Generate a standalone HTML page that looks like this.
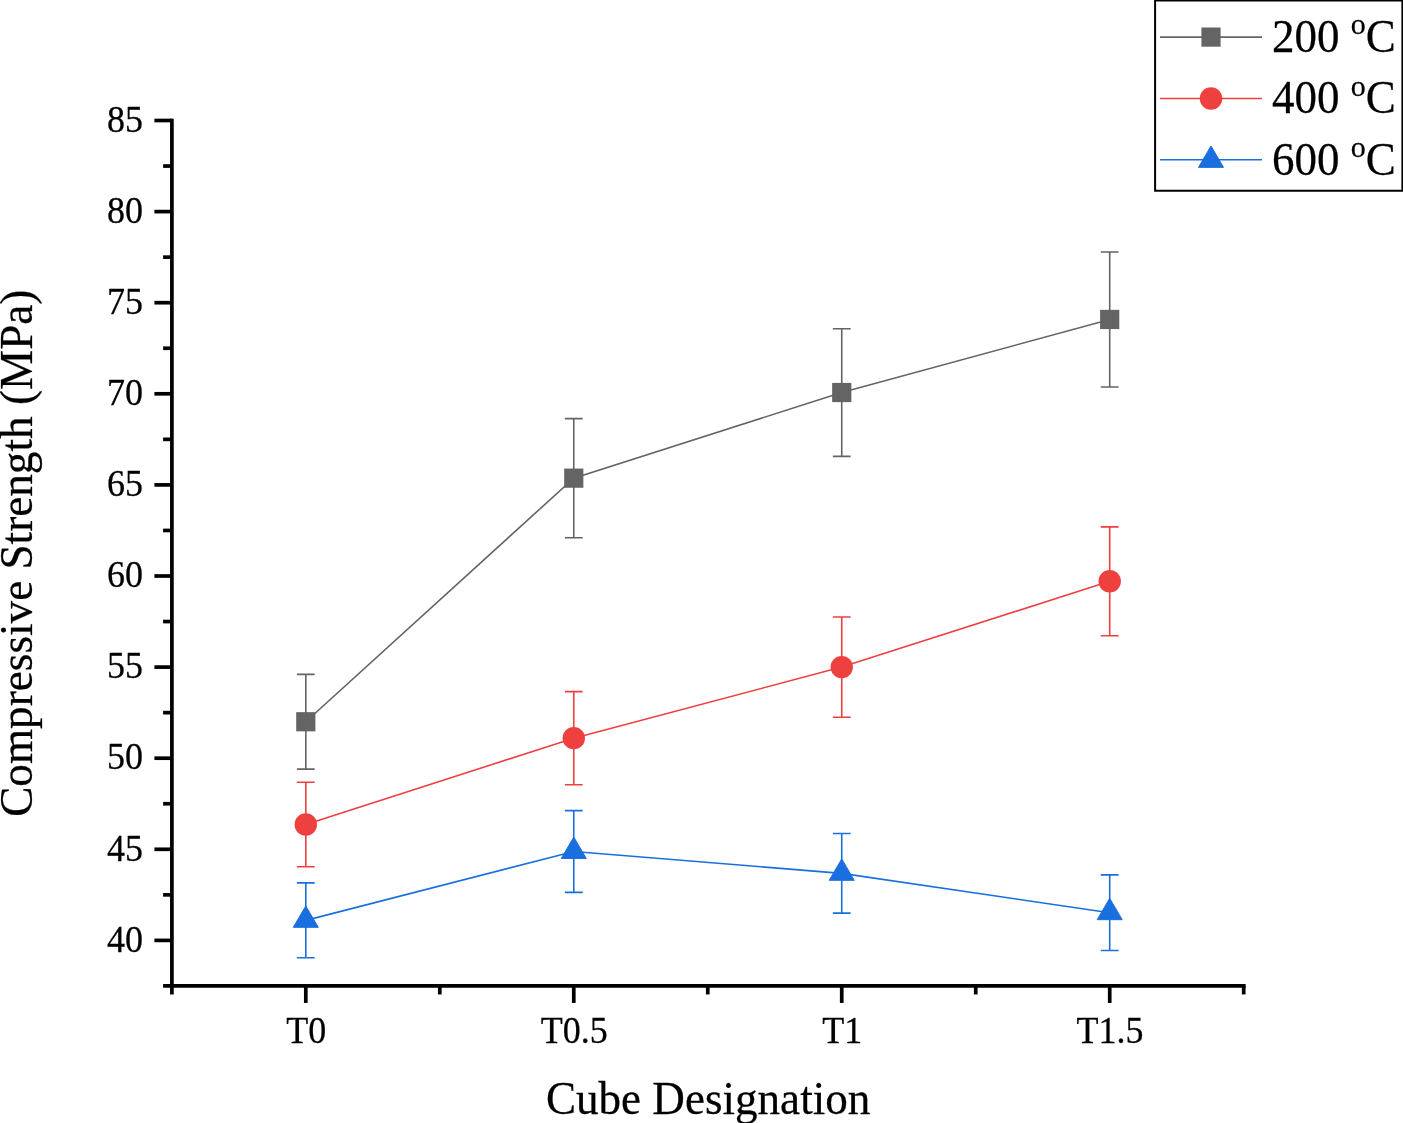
<!DOCTYPE html>
<html><head><meta charset="utf-8"><title>Chart</title>
<style>
html,body{margin:0;padding:0;background:#fff;}
body{width:1403px;height:1123px;overflow:hidden;}
svg{display:block;will-change:transform;}
text{font-family:"Liberation Serif",serif;fill:#000;stroke:#000;stroke-width:0.25px;}
</style></head><body>
<svg width="1403" height="1123" viewBox="0 0 1403 1123">
<rect width="1403" height="1123" fill="#fff"/>
<g stroke="#000" stroke-width="3.7" fill="none" stroke-linecap="butt">
<path d="M171.9 118.75 V994.45"/>
<path d="M163.1 985.95 H1245.65"/>
<path d="M154.4 120.5 H171.9"/>
<path d="M163.1 166.05 H171.9"/>
<path d="M154.4 211.6 H171.9"/>
<path d="M163.1 257.15 H171.9"/>
<path d="M154.4 302.7 H171.9"/>
<path d="M163.1 348.25 H171.9"/>
<path d="M154.4 393.8 H171.9"/>
<path d="M163.1 439.35 H171.9"/>
<path d="M154.4 484.9 H171.9"/>
<path d="M163.1 530.45 H171.9"/>
<path d="M154.4 576 H171.9"/>
<path d="M163.1 621.55 H171.9"/>
<path d="M154.4 667.1 H171.9"/>
<path d="M163.1 712.65 H171.9"/>
<path d="M154.4 758.2 H171.9"/>
<path d="M163.1 803.75 H171.9"/>
<path d="M154.4 849.3 H171.9"/>
<path d="M163.1 894.85 H171.9"/>
<path d="M154.4 940.4 H171.9"/>
<path d="M305.8 985.95 V1002.95"/>
<path d="M573.77 985.95 V1002.95"/>
<path d="M841.74 985.95 V1002.95"/>
<path d="M1109.71 985.95 V1002.95"/>
<path d="M439.79 985.95 V994.45"/>
<path d="M707.76 985.95 V994.45"/>
<path d="M975.73 985.95 V994.45"/>
<path d="M1243.7 985.95 V994.45"/>
</g>
<text transform="translate(143 131.7) scale(1 1.05)" font-size="36px" text-anchor="end">85</text>
<text transform="translate(143 222.8) scale(1 1.05)" font-size="36px" text-anchor="end">80</text>
<text transform="translate(143 313.9) scale(1 1.05)" font-size="36px" text-anchor="end">75</text>
<text transform="translate(143 405) scale(1 1.05)" font-size="36px" text-anchor="end">70</text>
<text transform="translate(143 496.1) scale(1 1.05)" font-size="36px" text-anchor="end">65</text>
<text transform="translate(143 587.2) scale(1 1.05)" font-size="36px" text-anchor="end">60</text>
<text transform="translate(143 678.3) scale(1 1.05)" font-size="36px" text-anchor="end">55</text>
<text transform="translate(143 769.4) scale(1 1.05)" font-size="36px" text-anchor="end">50</text>
<text transform="translate(143 860.5) scale(1 1.05)" font-size="36px" text-anchor="end">45</text>
<text transform="translate(143 951.6) scale(1 1.05)" font-size="36px" text-anchor="end">40</text>
<text transform="translate(306.2 1042.8) scale(1 1.05)" font-size="36px" text-anchor="middle">T0</text>
<text transform="translate(574.17 1042.8) scale(1 1.05)" font-size="36px" text-anchor="middle">T0.5</text>
<text transform="translate(842.14 1042.8) scale(1 1.05)" font-size="36px" text-anchor="middle">T1</text>
<text transform="translate(1110.11 1042.8) scale(1 1.05)" font-size="36px" text-anchor="middle">T1.5</text>
<text transform="translate(708.1 1113.7) scale(1 1.05)" font-size="45.1px" text-anchor="middle">Cube Designation</text>
<text transform="translate(31.6 553.2) rotate(-90) scale(1 1.035)" font-size="45.2px" text-anchor="middle">Compressive Strength (MPa)</text>
<g stroke="#646464" stroke-width="1.6" fill="none">
<path d="M305.8 721.76 L573.77 478.16 L841.74 392.52 L1109.71 319.46"/>
<path d="M305.8 674.39 V769.13 M296.9 674.39 H314.7 M296.9 769.13 H314.7"/>
<path d="M573.77 418.61 V537.71 M564.87 418.61 H582.67 M564.87 537.71 H582.67"/>
<path d="M841.74 328.69 V456.36 M832.84 328.69 H850.64 M832.84 456.36 H850.64"/>
<path d="M1109.71 251.98 V386.95 M1100.81 251.98 H1118.61 M1100.81 386.95 H1118.61"/>
</g>
<rect x="296.2" y="712.16" width="19.2" height="19.2" fill="#646464"/>
<rect x="564.17" y="468.56" width="19.2" height="19.2" fill="#646464"/>
<rect x="832.14" y="382.92" width="19.2" height="19.2" fill="#646464"/>
<rect x="1100.11" y="309.86" width="19.2" height="19.2" fill="#646464"/>
<g stroke="#EF4040" stroke-width="1.6" fill="none">
<path d="M305.8 824.52 L573.77 738.16 L841.74 667.1 L1109.71 581.28"/>
<path d="M305.8 782.29 V866.75 M296.9 782.29 H314.7 M296.9 866.75 H314.7"/>
<path d="M573.77 691.61 V784.71 M564.87 691.61 H582.67 M564.87 784.71 H582.67"/>
<path d="M841.74 617 V717.2 M832.84 617 H850.64 M832.84 717.2 H850.64"/>
<path d="M1109.71 526.89 V635.68 M1100.81 526.89 H1118.61 M1100.81 635.68 H1118.61"/>
</g>
<circle cx="305.8" cy="824.52" r="11.2" fill="#EF4040"/>
<circle cx="573.77" cy="738.16" r="11.2" fill="#EF4040"/>
<circle cx="841.74" cy="667.1" r="11.2" fill="#EF4040"/>
<circle cx="1109.71" cy="581.28" r="11.2" fill="#EF4040"/>
<g stroke="#1A6FDF" stroke-width="1.6" fill="none">
<path d="M305.8 920.36 L573.77 851.49 L841.74 873.35 L1109.71 912.71"/>
<path d="M305.8 882.92 V957.8 M296.9 882.92 H314.7 M296.9 957.8 H314.7"/>
<path d="M573.77 810.6 V892.37 M564.87 810.6 H582.67 M564.87 892.37 H582.67"/>
<path d="M841.74 833.56 V913.14 M832.84 833.56 H850.64 M832.84 913.14 H850.64"/>
<path d="M1109.71 874.88 V950.53 M1100.81 874.88 H1118.61 M1100.81 950.53 H1118.61"/>
</g>
<path d="M305.8 905.92 L318.3 927.32 L293.3 927.32 Z" fill="#1A6FDF" stroke="#1A6FDF" stroke-width="1" stroke-linejoin="round"/>
<path d="M573.77 837.05 L586.27 858.45 L561.27 858.45 Z" fill="#1A6FDF" stroke="#1A6FDF" stroke-width="1" stroke-linejoin="round"/>
<path d="M841.74 858.92 L854.24 880.32 L829.24 880.32 Z" fill="#1A6FDF" stroke="#1A6FDF" stroke-width="1" stroke-linejoin="round"/>
<path d="M1109.71 898.27 L1122.21 919.67 L1097.21 919.67 Z" fill="#1A6FDF" stroke="#1A6FDF" stroke-width="1" stroke-linejoin="round"/>
<rect x="1155.1" y="0.5" width="247.3" height="190.25" fill="#fff" stroke="#000" stroke-width="2"/>
<path d="M1160 37.1 H1262" stroke="#646464" stroke-width="1.6"/>
<rect x="1201.4" y="27.5" width="19.2" height="19.2" fill="#646464"/>
<text transform="translate(1272 51.9) scale(1 1.015)" font-size="45px" text-anchor="start">200 <tspan font-size="30px" dy="-17.2">o</tspan><tspan dy="17.2">C</tspan></text>
<path d="M1160 98.5 H1262" stroke="#EF4040" stroke-width="1.6"/>
<circle cx="1211" cy="98.5" r="11.2" fill="#EF4040"/>
<text transform="translate(1272 113.3) scale(1 1.015)" font-size="45px" text-anchor="start">400 <tspan font-size="30px" dy="-17.2">o</tspan><tspan dy="17.2">C</tspan></text>
<path d="M1160 159.8 H1262" stroke="#1A6FDF" stroke-width="1.6"/>
<path d="M1211 145.97 L1223.5 167.37 L1198.5 167.37 Z" fill="#1A6FDF" stroke="#1A6FDF" stroke-width="1" stroke-linejoin="round"/>
<text transform="translate(1272 174.6) scale(1 1.015)" font-size="45px" text-anchor="start">600 <tspan font-size="30px" dy="-17.2">o</tspan><tspan dy="17.2">C</tspan></text>
</svg></body></html>
